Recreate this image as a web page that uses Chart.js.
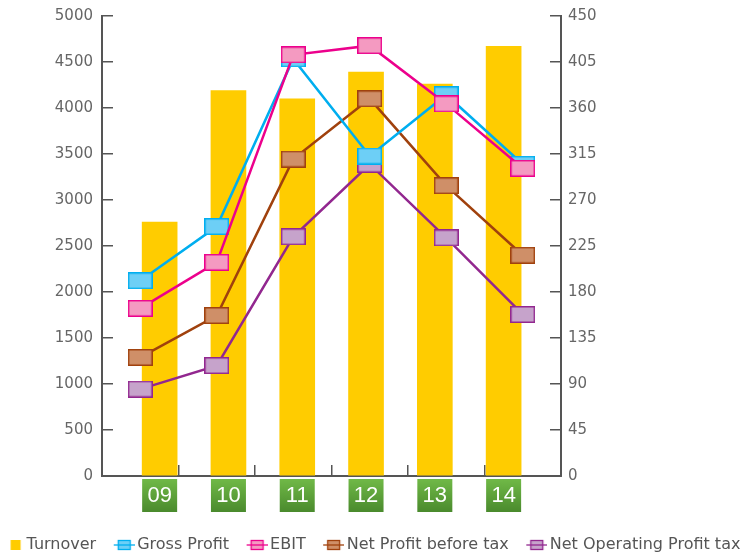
<!DOCTYPE html>
<html>
<head>
<meta charset="utf-8">
<script src="https://cdn.jsdelivr.net/npm/chart.js@4.4.1/dist/chart.umd.min.js"></script>
<style>
  html, body { margin: 0; padding: 0; background: #fff; overflow: hidden; }
  /* el lienzo sobresale 21px a la izquierda para dar aire a la leyenda */
  #contenedor { width: 769px; height: 563px; margin-left: -21px; }
</style>
</head>
<body>
<div id="contenedor"><canvas id="grafico"></canvas></div>
<script>
// Datos por año (eje izquierdo: Turnover, eje derecho: el resto)
let years = ["09", "10", "11", "12", "13", "14"];
let turnover = [2760, 4190, 4100, 4390, 4260, 4670];
let grossProfit = [191, 244, 408, 313, 373, 305];
let ebit = [164, 209, 412, 421, 364, 301];
let netProfitBeforeTax = [116, 157, 310, 369, 284, 216];
let netOperatingProfitTax = [85, 108, 234, 305, 233, 158];

// Escalas: min, max y paso de las marcas
let leftTicks = [0, 5000, 500];
let rightTicks = [0, 450, 45];

// Marcador rectangular para los puntos de cada serie
function marcador(relleno, borde){
    let c = document.createElement("canvas");
    c.width = 25;
    c.height = 17;
    let g = c.getContext("2d");
    g.fillStyle = relleno;
    g.fillRect(1, 1, 23, 15);
    g.strokeStyle = borde;
    g.lineWidth = 1.5;
    g.strokeRect(0.75, 0.75, 23.5, 15.5);
    return c;
}

// Iconos de la leyenda (linea con cuadro / cuadro solo)
function iconoLinea(relleno, borde){
    let c = document.createElement("canvas");
    c.width = 43;
    c.height = 14;
    let g = c.getContext("2d");
    g.fillStyle = relleno;
    g.fillRect(26, 2, 13, 10);
    g.strokeStyle = borde;
    g.lineWidth = 1.3;
    g.strokeRect(26.5, 2.5, 12, 9);
    g.beginPath();
    g.moveTo(22, 7);
    g.lineTo(43, 7);
    g.stroke();
    return c;
}

function iconoCuadro(relleno){
    let c = document.createElement("canvas");
    c.width = 43;
    c.height = 14;
    let g = c.getContext("2d");
    g.fillStyle = relleno;
    g.fillRect(29.5, 2, 10, 10);
    return c;
}

let colores = {
    turnover: "#FFCC00",
    gross: ["#6DCFF6", "#00AEEF"],
    ebit: ["#F49AC1", "#EC008C"],
    net: ["#CF8F68", "#A0410D"],
    oper: ["#C6A3CB", "#92278F"]
};

let iconos = [
    iconoCuadro(colores.turnover),
    iconoLinea(colores.gross[0], colores.gross[1]),
    iconoLinea(colores.ebit[0], colores.ebit[1]),
    iconoLinea(colores.net[0], colores.net[1]),
    iconoLinea(colores.oper[0], colores.oper[1])
];

function serieLinea(nombre, datos, col, orden){
    return {
        type: "line",
        label: nombre,
        data: datos,
        xAxisID: "x",
        yAxisID: "y1",
        borderColor: col[1],
        backgroundColor: col[0],
        borderWidth: 2.5,
        tension: 0,
        fill: false,
        pointStyle: marcador(col[0], col[1]),
        pointRadius: 8,
        order: orden
    };
}

// Etiquetas de años en cajas verdes bajo cada barra
const etiquetasAnios = {
    id: "etiquetasAnios",
    afterDraw(chart){
        let escala = chart.scales.xBar;
        let c = chart.ctx;
        let arriba = chart.chartArea.bottom + 3;
        c.save();
        years.forEach((anio, i) => {
            let cx = escala.getPixelForValue(i);
            let grad = c.createLinearGradient(0, arriba, 0, arriba + 33);
            grad.addColorStop(0, "#70B947");
            grad.addColorStop(1, "#4A8A2D");
            c.fillStyle = grad;
            c.fillRect(cx - 17.5, arriba, 35, 33);
            c.fillStyle = "#FFFFFF";
            c.font = '22px "Liberation Sans"';
            c.textAlign = "center";
            c.textBaseline = "middle";
            c.fillText(anio, cx, arriba + 17);
        });
        c.restore();
    }
};

let ejeColor = "#555555";
let fuenteEje = { family: "DejaVu Sans", size: 15 };
let altoLienzo = 563;
let baseGrafico = 476;

// ancho fijo del eje vertical; sin relleno extra arriba/abajo
function fijarEje(ancho){
    return (s) => {
        s.width = ancho;
        s.paddingTop = 0;
        s.paddingBottom = 0;
    };
}

const ctx = document.getElementById("grafico");

let grafico = new Chart(ctx, {
    type: "bar",
    data: {
        labels: years,
        datasets: [
            {
                type: "bar",
                label: "Turnover",
                data: turnover.map((v, i) => ({ x: i, y: v })),
                xAxisID: "xBar",
                yAxisID: "y",
                backgroundColor: colores.turnover,
                grouped: false,
                barThickness: 35,
                maxBarThickness: 35,
                order: 10
            },
            serieLinea("Gross Profit", grossProfit, colores.gross, 2),
            serieLinea("EBIT", ebit, colores.ebit, 1),
            serieLinea("Net Profit before tax", netProfitBeforeTax, colores.net, 3),
            serieLinea("Net Operating Profit tax", netOperatingProfitTax, colores.oper, 4)
        ]
    },
    options: {
        responsive: true,
        maintainAspectRatio: false,
        animation: false,
        events: [],
        layout: { padding: { top: 16, left: 0, right: 0, bottom: 0 } },
        plugins: {
            tooltip: { enabled: false },
            legend: {
                position: "bottom",
                labels: {
                    usePointStyle: true,
                    pointStyleWidth: 32,
                    padding: 1,
                    color: "#555555",
                    font: { family: "DejaVu Sans", size: 16 },
                    sort: (a, b) => a.datasetIndex - b.datasetIndex,
                    generateLabels: (chart) => {
                        let items = Chart.defaults.plugins.legend.labels.generateLabels(chart);
                        items.forEach((it) => { it.pointStyle = iconos[it.datasetIndex]; });
                        return items;
                    }
                }
            }
        },
        scales: {
            x: {
                type: "category",
                position: "bottom",
                offset: true,
                ticks: { display: false },
                grid: { offset: true, drawOnChartArea: false, tickLength: -11, color: ejeColor, lineWidth: 1.5 },
                border: { color: ejeColor, width: 2 },
                afterFit: (s) => { s.height = altoLienzo - s.chart.legend.height - baseGrafico; }
            },
            xBar: {
                type: "linear",
                position: "bottom",
                display: false,
                offset: false,
                min: -0.838,
                max: 5.834
            },
            y: {
                type: "linear",
                position: "left",
                min: leftTicks[0],
                max: leftTicks[1],
                ticks: { stepSize: leftTicks[2], padding: 20, color: "#666666", font: fuenteEje, callback: (v) => String(v) },
                grid: { drawOnChartArea: false, tickLength: -11, color: ejeColor, lineWidth: 1.5 },
                border: { color: ejeColor, width: 2 },
                afterFit: fijarEje(123)
            },
            y1: {
                type: "linear",
                position: "right",
                min: rightTicks[0],
                max: rightTicks[1],
                ticks: { stepSize: rightTicks[2], padding: 18, color: "#666666", font: fuenteEje, callback: (v) => String(v) },
                grid: { drawOnChartArea: false, tickLength: -11, color: ejeColor, lineWidth: 1.5 },
                border: { color: ejeColor, width: 2 },
                afterFit: fijarEje(187)
            }
        }
    },
    plugins: [etiquetasAnios]
});
</script>
</body>
</html>
